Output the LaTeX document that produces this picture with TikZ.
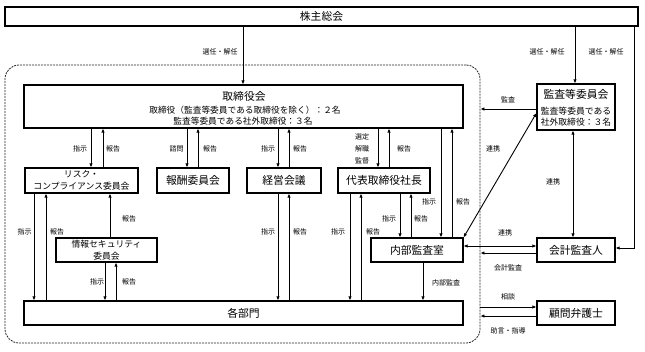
\documentclass[tikz,border=0pt]{standalone}
\usepackage{fontspec}
\setmainfont{Noto Sans CJK JP}
\usetikzlibrary{arrows.meta}
\tikzset{
  box/.style={draw, line width=1.1pt, inner sep=0pt, font=\fontsize{10.8}{12}\selectfont},
  small/.style={inner sep=0pt, font=\fontsize{8.7}{10}\selectfont},
  big/.style={inner sep=0pt, font=\fontsize{10.8}{12}\selectfont},
  lbl/.style={inner sep=0pt, font=\fontsize{7}{8}\selectfont},
  ar/.style={line width=0.9pt, -{Latex[length=4pt,width=3.4pt]}},
  bar/.style={line width=0.9pt, {Latex[length=4pt,width=3.4pt]}-{Latex[length=4pt,width=3.4pt]}},
}
\begin{document}
\begin{tikzpicture}[x=1pt,y=-1pt]
\useasboundingbox (0,0) rectangle (645,351);
% group border
\node[draw, dash pattern=on 2pt off 1pt, line width=0.8pt, draw=black!85, rounded corners=14pt,
      minimum width=475pt, minimum height=278pt] (grp) at (242.5,204) {};
% boxes
\node[box, minimum width=633pt, minimum height=19pt] (kabu) at (321.5,16.5) {株主総会};
\node[box, minimum width=439pt, minimum height=43pt] (tori) at (243.5,106.5) {};
\node[big] (toriT) at (244,96) {取締役会};
\node[small] (toriA) at (245,110) {取締役（監査等委員である取締役を除く）：２名};
\node[small] (toriB) at (243,121) {監査等委員である社外取締役：３名};
\node[box, minimum width=113pt, minimum height=25pt, align=center, font=\fontsize{8.8}{11.5}\selectfont] (risk) at (81.5,180.5) {リスク・\\コンプライアンス委員会};
\node[box, minimum width=72pt, minimum height=25pt] (hoshu) at (193,180.5) {報酬委員会};
\node[box, minimum width=74pt, minimum height=25pt] (keiei) at (284,180.5) {経営会議};
\node[box, minimum width=92pt, minimum height=25pt] (daihyo) at (384,180.5) {代表取締役社長};
\node[box, minimum width=101pt, minimum height=24pt, align=center, font=\fontsize{8.8}{11.5}\selectfont] (joho) at (106.5,250) {情報セキュリティ\\委員会};
\node[box, minimum width=92pt, minimum height=24pt] (naibu) at (417,250) {内部監査室};
\node[box, minimum width=439pt, minimum height=24pt] (kakubu) at (243.5,313) {各部門};
\node[box, minimum width=78pt, minimum height=46pt] (kansa) at (576,107) {};
\node[big] (kansaT) at (576,94) {監査等委員会};
\node[small, font=\fontsize{8.8}{10}\selectfont] (kansaA) at (576,111) {監査等委員である};
\node[small, font=\fontsize{8.8}{10}\selectfont] (kansaB) at (576,122) {社外取締役：３名};
\node[box, minimum width=78pt, minimum height=24pt] (kaikei) at (576,250) {会計監査人};
\node[box, minimum width=78pt, minimum height=24pt] (komon) at (576,313) {顧問弁護士};
% shareholders
\draw[ar] (kabu.south -| 243,0) -- (tori.north -| 243,0);
\node[lbl] (l1) at (220,52) {選任・解任};
\draw[ar] (kabu.south -| 575,0) -- (kansa.north -| 575,0);
\node[lbl] (l2) at (547,52) {選任・解任};
\draw[ar] (kabu.south -| 634,0) |- ([yshift=2pt]kaikei.east);
\node[lbl] (l3) at (606,52) {選任・解任};
% board to committees
\draw[ar] (tori.south -| 91,0) -- (risk.north -| 91,0);
\draw[ar] (risk.north -| 103,0) -- (tori.south -| 103,0);
\node[lbl] (l4) at (80,149) {指示};
\node[lbl] (l5) at (113,149) {報告};
\draw[ar] (tori.south -| 187,0) -- (hoshu.north -| 187,0);
\draw[ar] (hoshu.north -| 198,0) -- (tori.south -| 198,0);
\node[lbl] (l6) at (176.5,149) {諮問};
\node[lbl] (l7) at (210,149) {報告};
\draw[ar] (tori.south -| 278,0) -- (keiei.north -| 278,0);
\draw[ar] (keiei.north -| 289,0) -- (tori.south -| 289,0);
\node[lbl] (l8) at (268,149) {指示};
\node[lbl] (l9) at (300,149) {報告};
\draw[ar] (tori.south -| 378,0) -- (daihyo.north -| 378,0);
\draw[ar] (daihyo.north -| 389,0) -- (tori.south -| 389,0);
\node[lbl] (l10) at (362,137) {選定};
\node[lbl] (l11) at (362,149) {解職};
\node[lbl] (l12) at (362,161) {監督};
\node[lbl] (l13) at (404,149) {報告};
\draw[ar] (tori.south -| 441,0) -- (naibu.north -| 441,0);
\draw[ar] (naibu.north -| 452,0) -- (tori.south -| 452,0);
\node[lbl] (l14) at (429,202) {指示};
\node[lbl] (l15) at (463,202) {報告};
% president
\draw[ar] (daihyo.south -| 400,0) -- (naibu.north -| 400,0);
\draw[ar] (naibu.north -| 411,0) -- (daihyo.south -| 411,0);
\node[lbl] (l16) at (389,219) {指示};
\node[lbl] (l17) at (421,219) {報告};
\draw[ar] (daihyo.south -| 350,0) -- (kakubu.north -| 350,0);
\draw[ar] (kakubu.north -| 361,0) -- (daihyo.south -| 361,0);
\node[lbl] (l18) at (338,232) {指示};
\node[lbl] (l19) at (373,232) {報告};
% management meeting
\draw[ar] (keiei.south -| 278,0) -- (kakubu.north -| 278,0);
\draw[ar] (kakubu.north -| 289,0) -- (keiei.south -| 289,0);
\node[lbl] (l20) at (268,232) {指示};
\node[lbl] (l21) at (300,232) {報告};
% risk committee
\draw[ar] (risk.south -| 34,0) -- (kakubu.north -| 34,0);
\draw[ar] (kakubu.north -| 46,0) -- (risk.south -| 46,0);
\node[lbl] (l22) at (24.5,232) {指示};
\node[lbl] (l23) at (57,232) {報告};
\draw[ar] (joho.north -| 110,0) -- (risk.south -| 110,0);
\node[lbl] (l24) at (129,219) {報告};
\draw[ar] (joho.south -| 105,0) -- (kakubu.north -| 105,0);
\draw[ar] (kakubu.north -| 116,0) -- (joho.south -| 116,0);
\node[lbl] (l25) at (97,282) {指示};
\node[lbl] (l26) at (129,282) {報告};
% internal audit
\draw[ar] (naibu.south -| 423,0) -- (kakubu.north -| 423,0);
\node[lbl] (l27) at (446,283) {内部監査};
% right side
\draw[ar] ([yshift=-2pt]kansa.west) -- ([yshift=-2pt]kansa.west -| grp.east);
\node[lbl] (l28) at (508,100) {監査};
\draw[bar] (naibu.north east) -- ([yshift=-6pt]kansa.west);
\node[lbl] (l29) at (493,149) {連携};
\draw[bar] (kansa.south -| 573,0) -- (kaikei.north -| 573,0);
\node[lbl] (l30) at (553,182) {連携};
\draw[bar] ([yshift=4pt]naibu.east) -- ([yshift=4pt]kaikei.west);
\node[lbl] (l31) at (505,233) {連携};
\draw[ar] ([yshift=-3pt]kaikei.west) -- ([yshift=-3pt]kaikei.west -| grp.east);
\node[lbl] (l32) at (508,268) {会計監査};
\draw[ar] ([yshift=6pt]komon.west -| grp.east) -- ([yshift=6pt]komon.west);
\node[lbl] (l33) at (508,297) {相談};
\draw[ar] ([yshift=-3pt]komon.west) -- ([yshift=-3pt]komon.west -| grp.east);
\node[lbl] (l34) at (508,331) {助言・指導};
\end{tikzpicture}
\end{document}
